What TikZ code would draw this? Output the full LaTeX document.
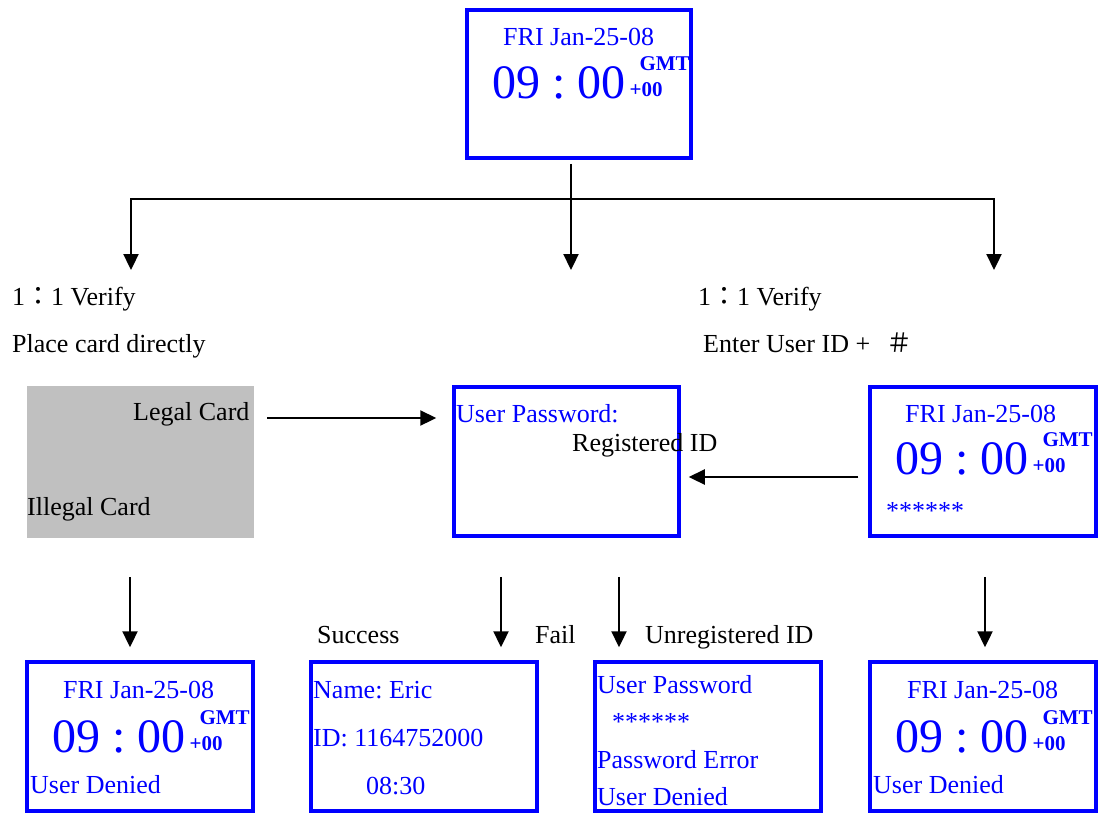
\documentclass[tikz,border=0pt]{standalone}
\usepackage{fontspec}
\setmainfont{Liberation Serif}
\newfontfamily\cjk{Noto Sans CJK TC}
\usepackage{tikz}
\usetikzlibrary{arrows.meta}
\definecolor{lcdblue}{RGB}{0,0,255}
\definecolor{cardgray}{RGB}{192,192,192}
\frenchspacing
\tikzset{
  font={\fontsize{26pt}{30pt}\selectfont}}
\newcommand{\gmtfont}{\bfseries\fontsize{21pt}{21pt}\selectfont}
\newcommand{\clockface}{{\fontsize{48pt}{48pt}\selectfont 09 : 00}%
  \makebox[0pt][l]{\hspace{14pt}\raisebox{28pt}{\gmtfont GMT}}%
  \hspace{4pt}\raisebox{2pt}{\gmtfont +00}}

\begin{document}
\begin{tikzpicture}[x=1pt,y=-1pt]
\tikzstyle{every node}+=[inner sep=0pt]
\tikzstyle{screen}=[draw=lcdblue, line width=3.5pt, minimum width=226pt, minimum height=149pt]
\tikzstyle{lcd}=[text=lcdblue, anchor=base west]
\tikzstyle{lbl}=[anchor=base west]
\tikzstyle{flow}=[draw=black, line width=2.3pt, -{Triangle[length=16pt,width=15pt]}]
\useasboundingbox (0,0) rectangle (1099,814);
% screens
\node[screen, minimum width=224pt, minimum height=148pt] (top) at (579,84) {};
\node[fill=cardgray, minimum width=227pt, minimum height=152pt] (card) at (140.5,462) {};
\node[screen, minimum width=225pt] (pwd) at (566.5,461.5) {};
\node[screen] (idscr) at (983,461.5) {};
\node[screen] (deny1) at (140,736.5) {};
\node[screen] (okscr) at (424,736.5) {};
\node[screen] (errscr) at (708,736.5) {};
\node[screen] (deny2) at (983,736.5) {};
% tree under the clock
\coordinate (fork) at (571,199);
\coordinate (cardPt) at (131,270);
\coordinate (waitPt) at (571,270);
\coordinate (idPt) at (994,270);
\draw[flow, shorten <=4pt] (top.south -| waitPt) -- (waitPt);
\draw[flow] (fork) -| (cardPt);
\draw[flow] (fork) -| (idPt);
% across
\draw[flow, shorten <=13pt, shorten >=16pt] ([yshift=44pt]card.east) -- ([yshift=44pt]card.east -| pwd.west);
\draw[flow, shorten <=10pt, shorten >=8pt] ([yshift=-15.5pt]idscr.west) -- ([yshift=-15.5pt]idscr.west -| pwd.east);
% down to results
\draw[flow, shorten <=39pt, shorten >=13pt] ([xshift=-10.5pt]card.south) -- ([xshift=-10pt]deny1.north);
\draw[flow, shorten <=39pt, shorten >=13pt] ([xshift=-65.5pt]pwd.south) -- ([xshift=77pt]okscr.north);
\draw[flow, shorten <=39pt, shorten >=13pt] ([xshift=52.5pt]pwd.south) -- ([xshift=-89pt]errscr.north);
\draw[flow, shorten <=39pt, shorten >=13pt] ([xshift=2pt]idscr.south) -- ([xshift=2pt]deny2.north);
% texts
\node[lcd] (topdate) at (503,45) {FRI Jan-25-08};
\node[lcd] (toptime) at (492,98) {\clockface};
\node[lbl] (verL) at (12,305) {1{\cjk ：}1 Verify};
\node[lbl] (placeL) at (12,352) {Place card directly};
\node[lbl] (verR) at (698,305) {1{\cjk ：}1 Verify};
\node[lbl] (enterR) at (703,352) {Enter User ID +\hspace{16pt}{\cjk ＃}};
\node[lbl] (legal) at (133,420) {Legal Card};
\node[lbl] (illegal) at (27,515) {Illegal Card};
\node[lcd] (pwdtxt) at (456,422) {User Password:};
\node[lbl] (regid) at (572,451) {Registered ID};
\node[lcd] (iddate) at (905,422) {FRI Jan-25-08};
\node[lcd] (idtime) at (895,474) {\clockface};
\node[lcd] (idstars) at (886,519) {******};
\node[lbl] (succ) at (317,643) {Success};
\node[lbl] (fail) at (535,643) {Fail};
\node[lbl] (unreg) at (645,643) {Unregistered ID};
\node[lcd] (d1date) at (63,698) {FRI Jan-25-08};
\node[lcd] (d1time) at (52,752) {\clockface};
\node[lcd] (d1msg) at (30,793) {User Denied};
\node[lcd] (okname) at (313,698) {Name: Eric};
\node[lcd] (okid) at (313,746) {ID: 1164752000};
\node[lcd] (oktime) at (366,794) {08:30};
\node[lcd] (errpwd) at (597,693) {User Password};
\node[lcd] (errstars) at (612,730) {******};
\node[lcd] (errmsg) at (597,768) {Password Error};
\node[lcd] (errdeny) at (597,805) {User Denied};
\node[lcd] (d2date) at (907,698) {FRI Jan-25-08};
\node[lcd] (d2time) at (895,752) {\clockface};
\node[lcd] (d2msg) at (873,793) {User Denied};
\end{tikzpicture}
\end{document}
